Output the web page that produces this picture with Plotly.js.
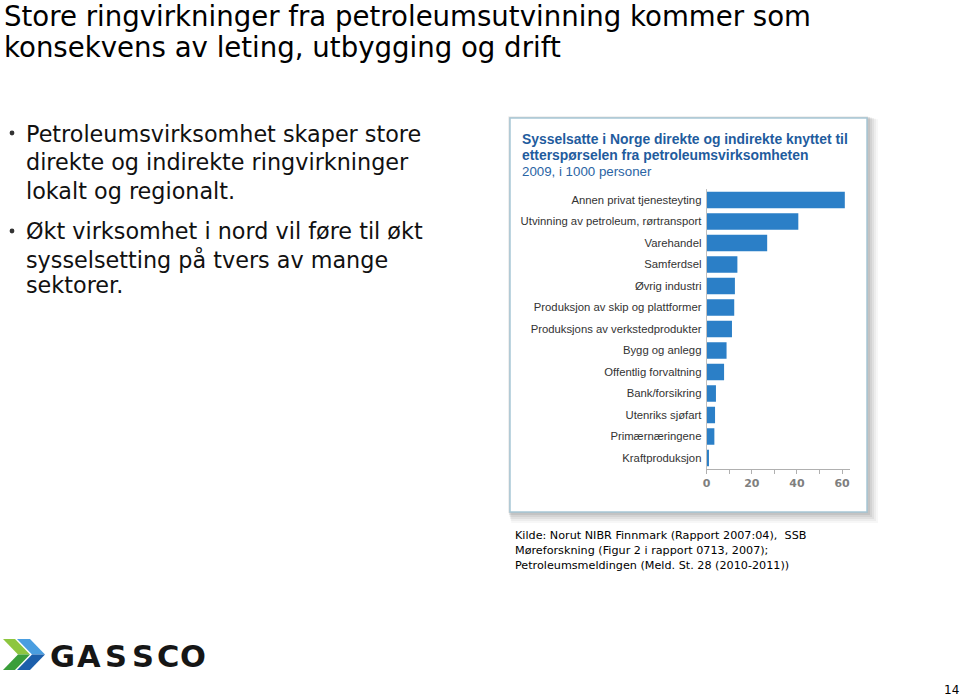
<!DOCTYPE html>
<html>
<head>
<meta charset="utf-8">
<script src="https://cdn.plot.ly/plotly-3.0.1.min.js"></script>
<style>html,body{margin:0;padding:0;background:#fff;}#chart{width:960px;height:696px;}</style>
</head>
<body>
<div id="chart"></div>
<script>
// ---- data ----
const categories = [
  "Annen privat tjenesteyting",
  "Utvinning av petroleum, rørtransport",
  "Varehandel",
  "Samferdsel",
  "Øvrig industri",
  "Produksjon av skip og plattformer",
  "Produksjons av verkstedprodukter",
  "Bygg og anlegg",
  "Offentlig forvaltning",
  "Bank/forsikring",
  "Utenriks sjøfart",
  "Primærnæringene",
  "Kraftproduksjon"
];
const values = [61.2, 40.6, 26.8, 13.6, 12.5, 12.2, 11.2, 8.8, 7.7, 4.1, 3.7, 3.4, 1.0];
const xTickVals = [0, 20, 40, 60];
const xTickText = ["0", "20", "40", "60"];

const slideTitle = [
  "Store ringvirkninger fra petroleumsutvinning kommer som",
  "konsekvens av leting, utbygging og drift"
];
const bullet1 = ["Petroleumsvirksomhet skaper store", "direkte og indirekte ringvirkninger", "lokalt og regionalt."];
const bullet2 = ["Økt virksomhet i nord vil føre til økt", "sysselsetting på tvers av mange", "sektorer."];
const chartTitle = ["Sysselsatte i Norge direkte og indirekte knyttet til", "etterspørselen fra petroleumsvirksomheten"];
const chartSubtitle = "2009, i 1000 personer";
const sourceLines = [
  "Kilde: Norut NIBR Finnmark (Rapport 2007:04),  SSB",
  "Møreforskning (Figur 2 i rapport 0713, 2007);",
  "Petroleumsmeldingen (Meld. St. 28 (2010-2011))"
];
const logoLetters = ["G", "A", "S", "S", "C", "O"];
const pageNumber = "14";

// ---- helpers ----
const W = 960, H = 696;
const fx = x => x / W;
const fy = y => 1 - y / H;

const annotations = [];
function txt(text, x, y, size, opts) {
  opts = opts || {};
  annotations.push({
    text: text, xref: "paper", yref: "paper", x: fx(x), y: fy(y),
    xanchor: opts.xanchor || "left", yanchor: "middle", showarrow: false,
    font: {family: opts.family || "DejaVu Sans, Verdana, sans-serif", size: size, color: opts.color || "#000",
           weight: opts.weight || "normal"},
    borderpad: 0
  });
}

// slide title
txt(slideTitle[0], 3, 16.8, 27.6);
txt(slideTitle[1], 3, 47.6, 27.6);
// bullets
const bLines = [134.1, 162.4, 190.7];
bullet1.forEach((t, i) => txt(t, 25, bLines[i], 22.3, {color: "#111"}));
const b2Lines = [230.7, 259.1, 285.1];
bullet2.forEach((t, i) => txt(t, 25, b2Lines[i], 22.3, {color: "#111"}));

// chart title inside image
const sans = "Liberation Sans, Arial, sans-serif";
txt(chartTitle[0], 521, 139, 13.9, {family: sans, weight: "bold", color: "#1f5c9e"});
txt(chartTitle[1], 521, 155, 13.9, {family: sans, weight: "bold", color: "#1f5c9e"});
txt(chartSubtitle, 521, 171, 13.3, {family: sans, color: "#2a64a4"});

// sources
const sY = [535.5, 550.5, 565.5];
sourceLines.forEach((t, i) => txt(t, 514, sY[i], 11.2, {color: "#000"}));

// logo letters
const lX = [62, 88.5, 115.5, 142.5, 168, 193];
logoLetters.forEach((t, i) => txt(t, lX[i], 656, 30.5, {xanchor: "center", weight: "bold", color: "#161616"}));

// page number
txt(pageNumber, 951, 690, 12, {xanchor: "center", color: "#000"});

// ---- shapes ----
const shapes = [];
function rect(x0, y0, x1, y1, fill, line, lw) {
  shapes.push({type: "rect", xref: "paper", yref: "paper", x0: fx(x0), x1: fx(x1), y0: fy(y1), y1: fy(y0),
    fillcolor: fill, line: {color: line || "rgba(0,0,0,0)", width: lw || 0}, layer: "below"});
}
function poly(pts, fill) {
  const p = pts.map((q, i) => (i ? "L" : "M") + fx(q[0]).toFixed(5) + "," + fy(q[1]).toFixed(5)).join(" ") + " Z";
  shapes.push({type: "path", xref: "paper", yref: "paper", path: p, fillcolor: fill, line: {width: 0}, layer: "above"});
}
// shadow
[[11, 0.04], [9, 0.05], [7, 0.07], [5, 0.08], [3, 0.1], [1, 0.1]].forEach(([d, a]) => {
  rect(510 - 2 + d * 0.3, 118 - 2 + d * 0.3, 867 + d, 512 + d, "rgba(60,60,60," + a + ")");
});
rect(510, 118, 867, 512, "#ffffff", "#a8c8d6", 1.5);

// bullets dots
[[12, 133], [12, 231]].forEach(([cx, cy]) => {
  shapes.push({type: "circle", xref: "paper", yref: "paper", x0: fx(cx - 2.4), x1: fx(cx + 2.4), y0: fy(cy + 2.4), y1: fy(cy - 2.4),
    fillcolor: "#333", line: {width: 0}});
});

// logo chevrons
poly([[3, 639], [15, 639], [30, 654.5], [18, 654.5]], "#8dc63f");
poly([[18, 654.5], [30, 654.5], [15, 670], [3, 670]], "#3a9e3a");
poly([[17, 639], [30, 639], [45, 654.5], [32, 654.5]], "#4a9ee0");
poly([[32, 654.5], [45, 654.5], [30, 670], [17, 670]], "#1c5fab");

// ---- chart ----
const trace = {
  type: "bar", orientation: "h", y: categories, x: values,
  marker: {color: "#2b7fc7"}, width: 0.76, hoverinfo: "x+y"
};

const layout = {
  width: W, height: H, margin: {l: 0, r: 0, t: 0, b: 0},
  paper_bgcolor: "#ffffff", plot_bgcolor: "rgba(0,0,0,0)",
  showlegend: false,
  xaxis: {
    domain: [fx(706.7), fx(850)], range: [0, 63.5], fixedrange: true,
    showgrid: false, zeroline: false, showline: true, linecolor: "#b0b0b0", linewidth: 1,
    tickvals: xTickVals, ticktext: xTickText, ticks: "outside", ticklen: 4, tickcolor: "#b0b0b0",
    minor: {dtick: 10, ticks: "outside", ticklen: 4, tickcolor: "#b0b0b0"},
    tickfont: {family: "DejaVu Sans, Verdana, sans-serif", size: 11, color: "#7f7f7f", weight: "bold"}
  },
  yaxis: {
    domain: [fy(468.75), fy(189.25)], autorange: "reversed", fixedrange: true,
    showgrid: false, zeroline: false, showline: true, linecolor: "#c0c0c0", linewidth: 1,
    ticks: "", ticklabelstandoff: 2,
    tickfont: {family: sans, size: 11.3, color: "#333"}
  },
  annotations: annotations, shapes: shapes
};

Plotly.newPlot("chart", [trace], layout, {displayModeBar: false, staticPlot: true});
</script>
</body>
</html>
